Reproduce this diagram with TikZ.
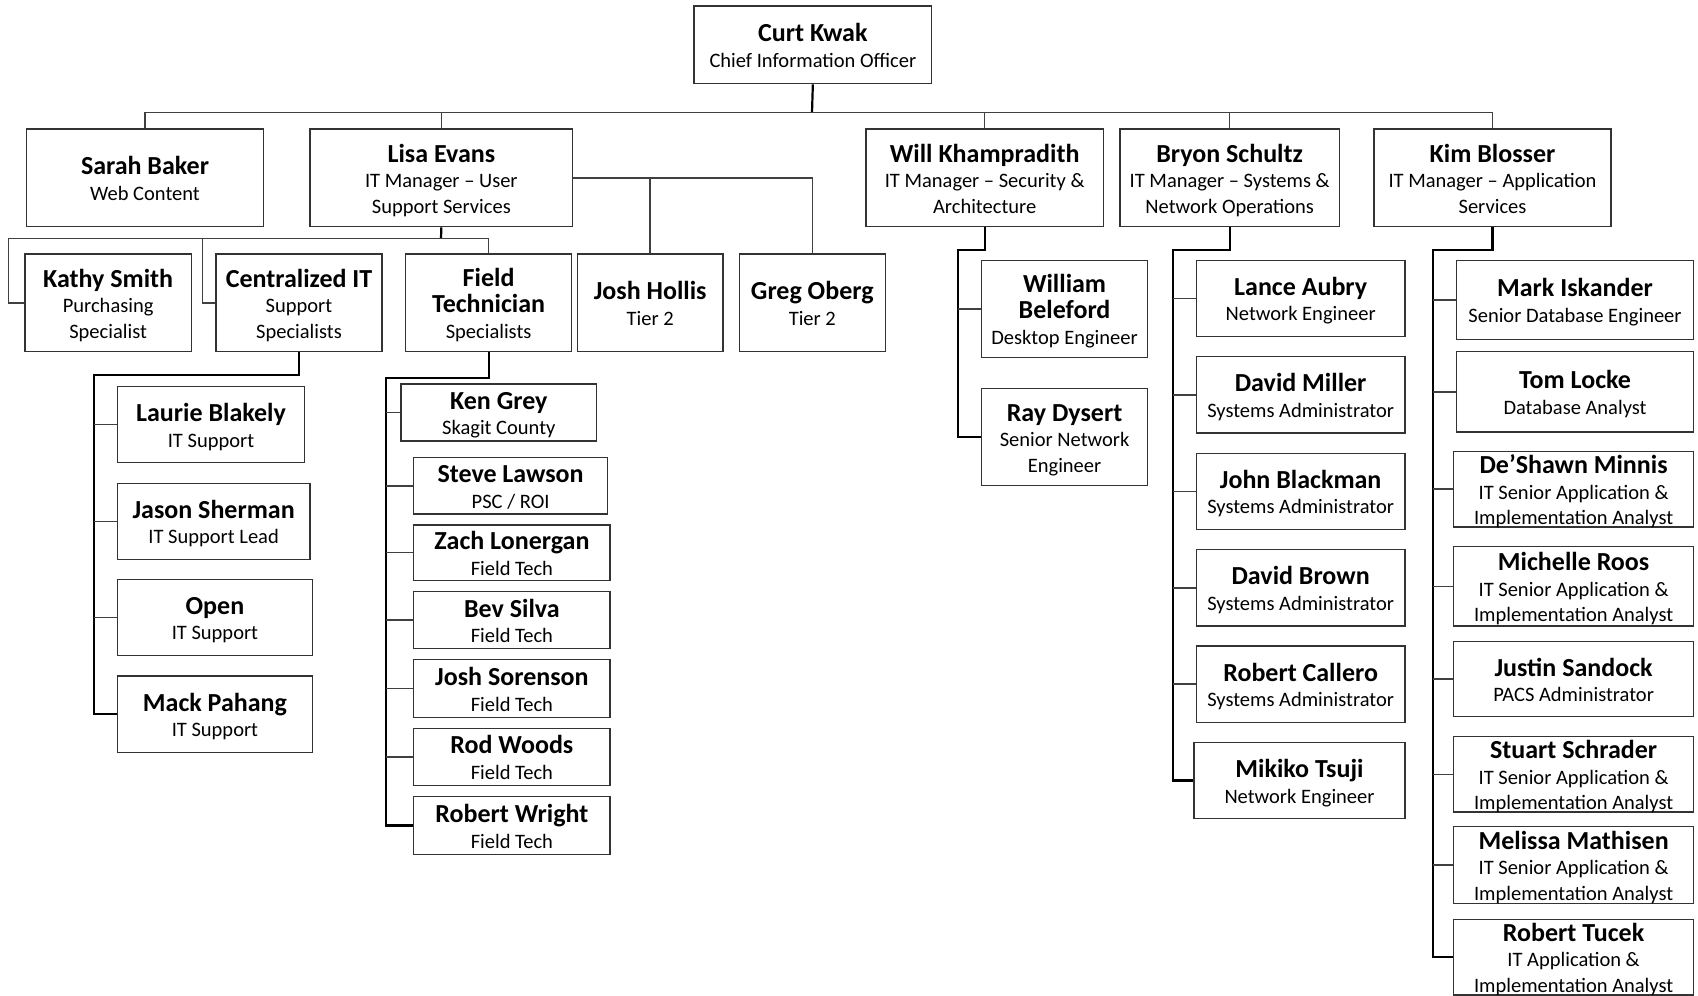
\documentclass[tikz,border=0pt]{standalone}
\usepackage{fontspec}
\setmainfont{Carlito}

\newcommand{\namefont}{\fontsize{26}{25.5}\selectfont\bfseries}
\newcommand{\rolefont}{\fontsize{20.5}{25.5}\selectfont}
% name on the first row(s), role below
\newcommand{\who}[2]{\begin{tabular}{@{}c@{}}\namefont #1\\#2\end{tabular}}
% box from its corners (x1,y1) (x2,y2), text set a little low as in Word
\newcommand{\staff}[6]{%
  \node[emp, minimum width={#4-#2}, minimum height={#5-#3}] (#1) at ({(#2+#4)/2},{(#3+#5)/2}) {};
  \node[empt] (#1-text) at (#1.center) {#6};}

\begin{document}
\begin{tikzpicture}[x=1pt, y=-1pt,
    emp/.style={draw=black!80, line width=1.3pt, fill=white, inner sep=0pt},
    empt/.style={inner sep=0pt, font=\rolefont, yshift=-4.5pt},
    wire/.style={line width=1.5pt, black!75},
    spine/.style={line width=2.2pt, black}]
        % Page size of the reference
        \fill[white] (0,0) rectangle (1698,996);
        \useasboundingbox (0,0) rectangle (1698,996);

        % Chief and his managers
        \staff{curt}{694}{6}{931.7}{83.7}{\who{Curt Kwak}{Chief Information Officer}}
        \staff{sarah}{26.3}{129}{263.7}{226.7}{\who{Sarah Baker}{Web Content}}
        \staff{lisa}{310}{129}{572.7}{226.7}{\who{Lisa Evans}{IT Manager – User\\Support Services}}
        \staff{will}{866}{129}{1103.3}{226.7}{\who{Will Khampradith}{IT Manager – Security \&\\Architecture}}
        \staff{bryon}{1120}{129}{1339.3}{226.7}{\who{Bryon Schultz}{IT Manager – Systems \&\\Network Operations}}
        \staff{kim}{1374}{129}{1611}{226.7}{\who{Kim Blosser}{IT Manager – Application\\Services}}

        % Lisa's group
        \staff{kathy}{25}{254}{191.3}{351.5}{\who{Kathy Smith}{Purchasing\\Specialist}}
        \staff{central}{216}{254}{382}{351.5}{\who{Centralized IT}{Support\\Specialists}}
        \staff{field}{405.7}{254}{571.5}{351.5}{\who{Field\\\namefont Technician}{Specialists}}
        \staff{hollis}{577.3}{254}{723}{351.5}{\who{Josh Hollis}{Tier 2}}
        \staff{oberg}{739.3}{254}{885.3}{351.5}{\who{Greg Oberg}{Tier 2}}

        % Centralized IT support
        \staff{laurie}{117.3}{386.7}{304.7}{462.7}{\who{Laurie Blakely}{IT Support}}
        \staff{jason}{117.3}{483.3}{310}{559.3}{\who{Jason Sherman}{IT Support Lead}}
        \staff{open}{117.3}{579.3}{312.6}{655.3}{\who{Open}{IT Support}}
        \staff{mack}{117.3}{676}{312.6}{752.3}{\who{Mack Pahang}{IT Support}}

        % Field technicians
        \staff{ken}{401}{384}{596.6}{441}{\who{Ken Grey}{Skagit County}}
        \staff{steve}{413.8}{457.7}{607.4}{514}{\who{Steve Lawson}{PSC / ROI}}
        \staff{zach}{413.8}{525}{610}{580.3}{\who{Zach Lonergan}{Field Tech}}
        \staff{bev}{413.8}{591.7}{610}{648.7}{\who{Bev Silva}{Field Tech}}
        \staff{sorenson}{413.8}{659.3}{610}{717.7}{\who{Josh Sorenson}{Field Tech}}
        \staff{rod}{413.8}{728.3}{610}{785.3}{\who{Rod Woods}{Field Tech}}
        \staff{wright}{413.8}{796.7}{610}{854.3}{\who{Robert Wright}{Field Tech}}

        % Security and architecture
        \staff{beleford}{981.4}{260.3}{1147.7}{357.3}{\who{William\\\namefont Beleford}{Desktop Engineer}}
        \staff{dysert}{981.4}{388.7}{1147.7}{485.3}{\who{Ray Dysert}{Senior Network\\Engineer}}

        % Systems and network operations
        \staff{aubry}{1196.3}{260.3}{1405}{336.3}{\who{Lance Aubry}{Network Engineer}}
        \staff{miller}{1196.3}{356.7}{1405}{433}{\who{David Miller}{Systems Administrator}}
        \staff{blackman}{1196.3}{453.3}{1405}{529.3}{\who{John Blackman}{Systems Administrator}}
        \staff{brown}{1196.3}{549.7}{1405}{626}{\who{David Brown}{Systems Administrator}}
        \staff{callero}{1196.3}{646}{1405}{722.3}{\who{Robert Callero}{Systems Administrator}}
        \staff{tsuji}{1194}{742.7}{1405}{818.3}{\who{Mikiko Tsuji}{Network Engineer}}

        % Application services
        \staff{iskander}{1456.3}{260.3}{1693.7}{339.3}{\who{Mark Iskander}{Senior Database Engineer}}
        \staff{locke}{1456.3}{351.7}{1693.7}{432}{\who{Tom Locke}{Database Analyst}}
        \staff{minnis}{1453.5}{451.3}{1693.7}{527}{\who{De’Shawn Minnis}{IT Senior Application \&\\Implementation Analyst}}
        \staff{roos}{1453.5}{546.5}{1693.7}{626}{\who{Michelle Roos}{IT Senior Application \&\\Implementation Analyst}}
        \staff{sandock}{1453.5}{641.5}{1693.7}{716.7}{\who{Justin Sandock}{PACS Administrator}}
        \staff{schrader}{1453.5}{736.7}{1693.7}{812}{\who{Stuart Schrader}{IT Senior Application \&\\Implementation Analyst}}
        \staff{mathisen}{1453.5}{826.7}{1693.7}{903.3}{\who{Melissa Mathisen}{IT Senior Application \&\\Implementation Analyst}}
        \staff{tucek}{1453.5}{919.3}{1693.7}{995}{\who{Robert Tucek}{IT Application \&\\Implementation Analyst}}

        % Bus rows and spine tops
        \coordinate (topbus) at (812,112.7);
        \coordinate (lbus) at (441,238.3);
        \coordinate (kathyup) at (8.7,238.3);
        \coordinate (centralup) at (202.7,238.3);
        \coordinate (cspine) at (93.7,375);
        \coordinate (fspine) at (386,378.3);
        \coordinate (wspine) at (958,250);
        \coordinate (bspine) at (1172.7,250.3);
        \coordinate (kspine) at (1433.3,250.3);

        % CIO to managers
        \draw[spine] (curt.south) -- (topbus);
        \foreach \n in {sarah,lisa,will,bryon,kim}
            \draw[wire] (\n.north) |- (topbus);

        % Lisa to her staff
        \draw[spine] (lisa.south) -- (lbus);
        \draw[wire] (kathy.west) -| (kathyup) -- (lbus);
        \draw[wire] (central.west) -| (centralup);
        \draw[wire] (field.north) |- (lbus);
        \draw[spine] (lisa.east) -- (lisa.east -| hollis.north);
        \draw[wire] (hollis.north) |- (lisa.east);
        \draw[wire] (oberg.north) |- (lisa.east);

        % Spines down to each team
        \draw[spine] (central.south) |- (cspine) |- (mack.west);
        \draw[spine] (field.south) |- (fspine) |- (wright.west);
        \draw[spine] (will.south) |- (wspine) |- (dysert.west);
        \draw[spine] (bryon.south) |- (bspine) |- (tsuji.west);
        \draw[spine] (kim.south) |- (kspine) |- (tucek.west);

        % Stubs from spines to boxes
        \foreach \n in {laurie,jason,open}
            \draw[wire] (\n.west) -- (\n.west -| cspine);
        \foreach \n in {ken,steve,zach,bev,sorenson,rod}
            \draw[wire] (\n.west) -- (\n.west -| fspine);
        \draw[wire] (beleford.west) -- (beleford.west -| wspine);
        \foreach \n in {aubry,miller,blackman,brown,callero}
            \draw[wire] (\n.west) -- (\n.west -| bspine);
        \foreach \n in {iskander,locke,minnis,roos,sandock,schrader,mathisen}
            \draw[wire] (\n.west) -- (\n.west -| kspine);
\end{tikzpicture}
\end{document}
